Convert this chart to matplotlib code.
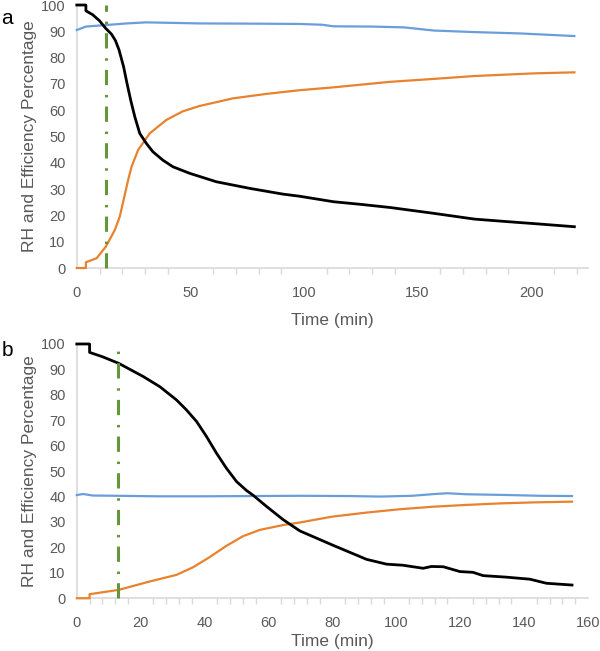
import matplotlib.pyplot as plt
from matplotlib.ticker import MultipleLocator

plt.rcParams['font.family'] = ['Liberation Sans', 'DejaVu Sans']

# panel a readings
time_a_black = [0, 4, 4, 7, 10, 12.75, 15.2, 17, 18.6, 20.6, 22.1, 23.7, 25.5, 27.7, 30.6, 33.5, 37.9, 42.3, 49.7,
                61.4, 76, 90.7, 98, 113, 125, 138, 157, 175, 190, 201, 210, 219]
black_a = [100, 100, 97.8, 96.3, 94, 91.1, 89, 86.5, 82.9, 76.5, 70.2, 63.9, 57.6, 51.2, 47.4, 44.2, 41.0, 38.5,
           36.0, 32.8, 30.3, 28.1, 27.3, 25.2, 24.2, 23, 20.8, 18.6, 17.6, 16.9, 16.3, 15.7]
time_a_orange = [0, 4, 4, 8.7, 12.75, 16.7, 18.9, 20.6, 22.6, 24.1, 27, 32.1, 39.4, 46.7, 54, 68.7, 83.4, 98,
                 113, 138, 157, 175, 201, 219]
orange_a = [0, 0, 2.2, 3.7, 8.1, 14.4, 19.5, 25.9, 33.5, 38.5, 44.9, 51.2, 56.3, 59.6, 61.6, 64.5, 66.2, 67.6,
            68.7, 70.8, 71.9, 73, 74, 74.4]
time_a_blue = [0, 4, 13, 22, 30.5, 54, 80, 98, 108, 113, 130, 144, 157, 175, 195, 219]
blue_a = [90.5, 91.8, 92.4, 93, 93.4, 93, 92.9, 92.8, 92.5, 91.9, 91.8, 91.5, 90.3, 89.7, 89.2, 88.2]

# panel b readings
time_b_black = [0, 4, 4, 8, 13.1, 20.8, 26, 31.2, 34.3, 37.5, 40.6, 43.7, 46.8, 50, 53.1, 55.2, 59.4, 64.6, 69.8,
                79.9, 90.7, 97, 102, 108.4, 111, 114.7, 119.9, 124, 127.2, 134.5, 141.8, 147, 155]
black_b = [100, 100, 96.7, 95, 92.4, 87.2, 83.2, 78, 74.1, 69.5, 63.6, 57.1, 51.2, 45.9, 42.4, 40.5, 36.1, 30.9,
           26.5, 21, 15.3, 13.4, 13, 11.8, 12.5, 12.4, 10.5, 10.2, 8.9, 8.3, 7.5, 5.9, 5.2]
time_b_orange = [0, 4, 4, 13.1, 22.8, 31.2, 36.4, 41.6, 46.8, 52, 57.3, 64.6, 69.8, 79.9, 90.7, 101, 111.4,
                 121.8, 132.3, 142.8, 155]
orange_b = [0, 0, 1.6, 3.3, 6.6, 9.2, 12.2, 16.2, 20.6, 24.4, 26.9, 28.8, 29.8, 32.1, 33.7, 35, 36, 36.7,
            37.3, 37.7, 38]
time_b_blue = [0, 2, 5, 13, 25, 40, 55, 70, 85, 95, 105, 112, 116, 122, 135, 145, 155]
blue_b = [40.6, 41, 40.4, 40.3, 40.1, 40.1, 40.2, 40.3, 40.2, 40.0, 40.3, 41.0, 41.3, 40.9, 40.6, 40.3, 40.2]

marker_time = 13

grey = '#595959'
axis_grey = '#d9d9d9'
dash_dot = (0, (5, 3, 0.8, 3.2))

fig = plt.figure(figsize=(6, 6.51), dpi=100)
ax_a = fig.add_axes([0.128, 0.5883, 0.852, 0.404])
ax_b = fig.add_axes([0.128, 0.081, 0.852, 0.3906])


def style_axis(ax, xmax, major, minor, xlabel_pad):
    ax.set_xlim(0, xmax)
    ax.set_ylim(0, 100)
    ax.xaxis.set_major_locator(MultipleLocator(major))
    ax.xaxis.set_minor_locator(MultipleLocator(minor))
    ax.yaxis.set_major_locator(MultipleLocator(10))
    for side in ['top', 'right']:
        ax.spines[side].set_visible(False)
    for side in ['left', 'bottom']:
        ax.spines[side].set_color(axis_grey)
        ax.spines[side].set_linewidth(1.2)
    ax.tick_params(axis='x', which='major', length=0, labelsize=10.5, labelcolor=grey, pad=13)
    ax.tick_params(axis='x', which='minor', length=4, color=axis_grey, width=1)
    ax.tick_params(axis='y', length=0, labelsize=10.5, labelcolor=grey, pad=8)
    ax.set_xlabel('Time (min)', fontsize=12.5, color=grey, labelpad=xlabel_pad)
    ax.set_ylabel('RH and Efficiency Percentage', fontsize=12.5, color=grey, labelpad=3)


style_axis(ax_a, 225, 50, 10, 9)
ax_a.plot(time_a_blue, blue_a, color='#6a9edb', lw=1.6, clip_on=False, zorder=3)
ax_a.plot(time_a_orange, orange_a, color='#e8822e', lw=1.6, clip_on=False, zorder=3)
ax_a.plot(time_a_black, black_a, color='black', lw=2, clip_on=False, zorder=3)
ax_a.plot([marker_time, marker_time], [0, 100], color='#66963a', lw=2.2, ls=dash_dot, clip_on=False, zorder=3)

style_axis(ax_b, 160, 20, 4, 3)
ax_b.plot(time_b_blue, blue_b, color='#6a9edb', lw=1.6, clip_on=False, zorder=3)
ax_b.plot(time_b_orange, orange_b, color='#e8822e', lw=1.6, clip_on=False, zorder=3)
ax_b.plot(time_b_black, black_b, color='black', lw=2, clip_on=False, zorder=3)
ax_b.plot([marker_time, marker_time], [0, 98.5], color='#66963a', lw=2.2, ls=dash_dot, clip_on=False, zorder=3)

fig.text(0.002, 0.971, 'a', fontsize=15, color='black', va='center', ha='left')
fig.text(0.002, 0.462, 'b', fontsize=15, color='black', va='center', ha='left')

fig.savefig('out.png', dpi=100)
